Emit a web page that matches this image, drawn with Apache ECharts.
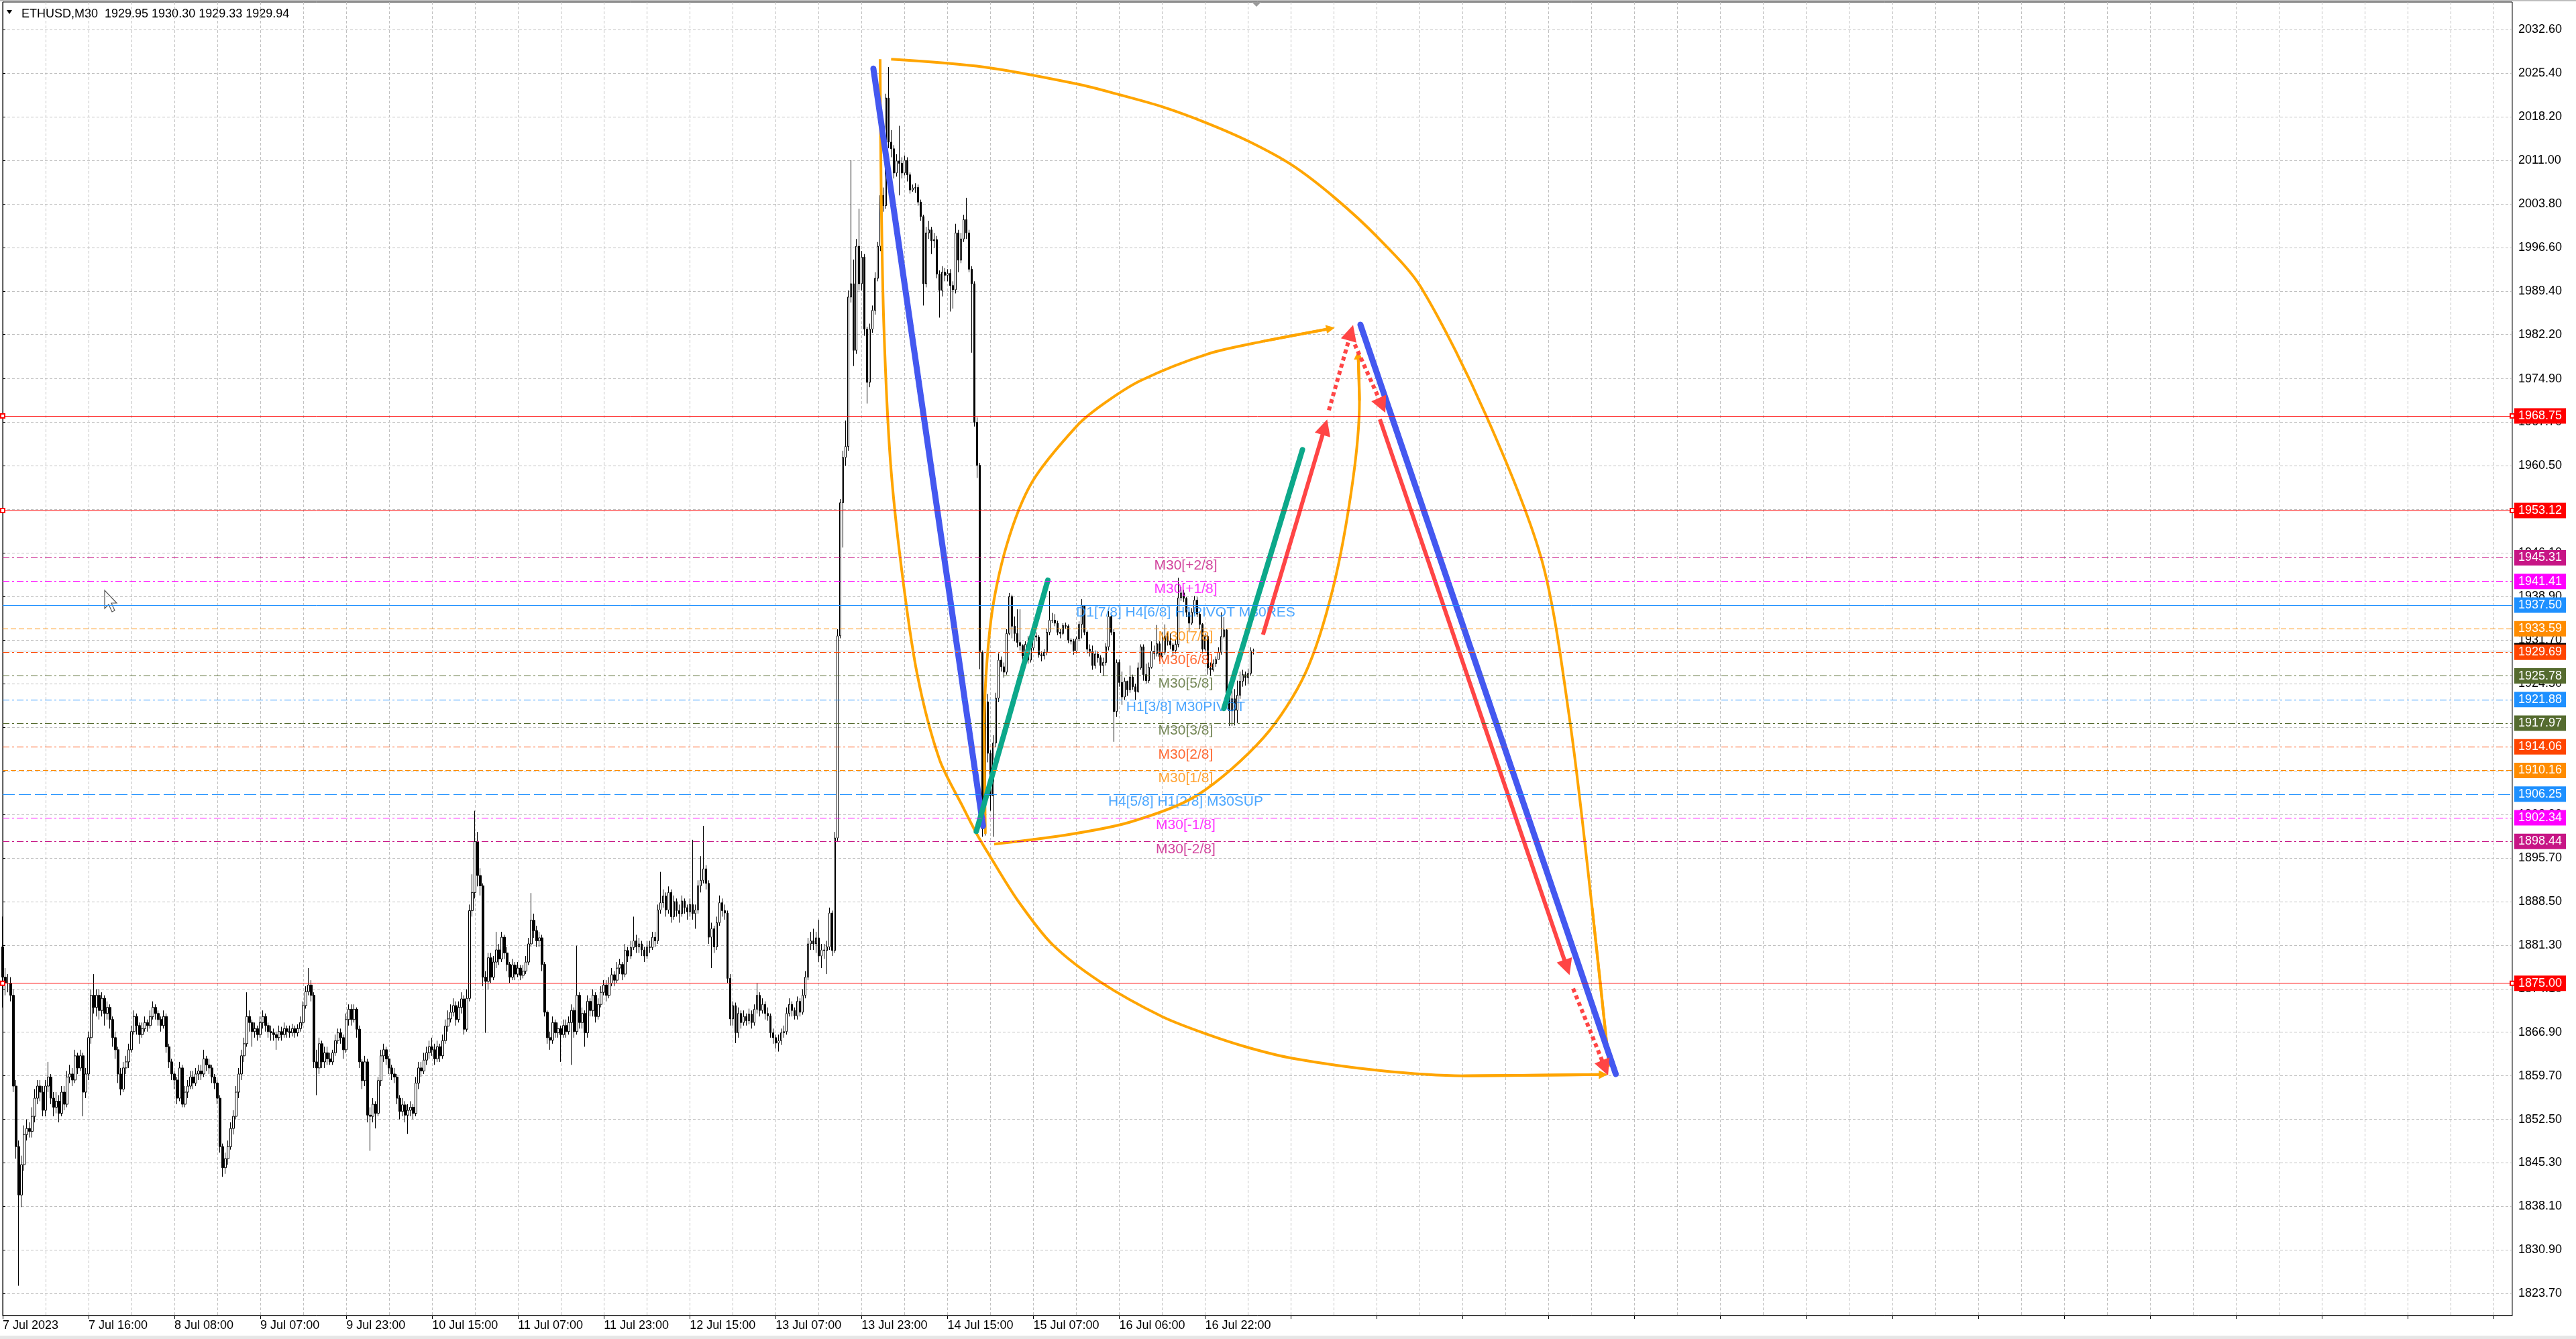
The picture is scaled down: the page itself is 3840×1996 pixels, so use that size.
<!DOCTYPE html>
<html><head><meta charset="utf-8">
<script src="https://cdn.jsdelivr.net/npm/echarts@6/dist/echarts.min.js"></script>
<style>html,body{margin:0;padding:0;background:#fff}#c{width:3840px;height:1996px}</style>
</head><body><div id="c"></div>
<script>
// ---------------- DATA ----------------
const SYMBOL = 'ETHUSD,M30';
const TIME_LABELS = ['7 Jul 2023','7 Jul 16:00','8 Jul 08:00','9 Jul 07:00','9 Jul 23:00','10 Jul 15:00','11 Jul 07:00','11 Jul 23:00','12 Jul 15:00','13 Jul 07:00','13 Jul 23:00','14 Jul 15:00','15 Jul 07:00','16 Jul 06:00','16 Jul 22:00'];
const Y_TICKS = [2032.60,2025.40,2018.20,2011.00,2003.80,1996.60,1989.40,1982.20,1974.90,1967.70,1960.50,1953.30,1946.10,1938.90,1931.70,1924.50,1917.30,1910.10,1902.90,1895.70,1888.50,1881.30,1874.10,1866.90,1859.70,1852.50,1845.30,1838.10,1830.90,1823.70];
const FIRST_OPEN = 1881;
const CLOSE = [
1876,1875,1875,1873,1858,1848,1840,1845,1850,1851,1850.5,1853,1856,1858,1857,1854,
1858,1859.5,1856,1854.5,1855.5,1853.5,1857,1855,1859.5,1860,1859,1863,1861,1863,1857,1860,
1866,1873,1871,1873,1870.5,1872.5,1870,1871,1869,1866,1864,1860,1857.5,1861,1862,1864,
1867,1869.5,1868,1866.5,1867.5,1868.5,1868,1869.5,1871,1870,1869,1868,1869.5,1864.5,1862,1860,
1859,1856,1861,1855,1857,1858,1859.5,1858.5,1860,1860.5,1860,1862.5,1861.5,1861,1859.5,1858.5,
1856,1848,1844.5,1846,1848,1851,1853,1857,1860,1863,1865,1869.5,1868.5,1867,1867.5,1866.5,
1868.5,1869.5,1868,1867,1866.8,1866.5,1866,1867,1866.5,1867.5,1867,1866.8,1867.5,1866.8,1867.5,1868.5,
1871.3,1873.6,1874.7,1873,1862,1861,1865,1862,1863.5,1862.5,1862,1863.5,1865.5,1866.8,1866,1864,
1869,1870.7,1869,1870.7,1867.4,1862,1858.9,1862,1853.2,1853,1855,1853.5,1858.9,1863,1864,1862.5,
1861,1860,1859.5,1856,1853.8,1854.9,1853.2,1854,1854.5,1853.5,1858.5,1861,1860.5,1862.3,1863.5,1864.5,
1864,1862.5,1864.5,1863,1865.5,1867.9,1869.1,1870.2,1871.3,1869,1871,1872.4,1867.4,1872.5,1887,1890,
1898.4,1892.8,1891.1,1876,1875.3,1879.2,1876,1878.5,1880.5,1879,1882.6,1880,1878.1,1876,1878,1876.5,
1877.5,1876.3,1877,1878.5,1881.5,1885.4,1883.7,1882,1882.5,1878.1,1870.2,1866,1865.6,1868.5,1866.8,1867.5,
1866.5,1868,1867,1868.5,1870.5,1867,1873,1868.5,1870,1866.8,1872,1870.5,1873,1869.5,1871.5,1873.5,
1874.7,1873,1875,1876.4,1875.5,1877.5,1878.1,1876.5,1880.4,1879.5,1880.9,1882,1881,1881.5,1880.5,1879.5,
1881,1880.9,1882.6,1882,1887.1,1888.3,1889.4,1887.1,1890,1886,1888.5,1887,1886.5,1888.6,1887.5,1886.8,
1888,1886.5,1887.1,1891.1,1892,1893.9,1891.5,1882.6,1884,1881,1885,1888.3,1887,1886.6,1875.8,1869.1,
1871.3,1866.8,1870,1868.5,1869.5,1868.8,1869.9,1868.5,1870.7,1873,1870.5,1871.5,1870,1869.6,1866.8,1866,
1865.1,1865.5,1866.8,1867,1870,1871.5,1870.5,1869.6,1872,1870.2,1873,1876,1881.5,1882,1881.5,1882.5,
1879.5,1880.5,1880.4,1881,1886.6,1880.4,1899,1932.4,1954.4,1961.9,1963.7,1988.4,1990.6,1979.6,1996.8,1990.6,
1995,1983.1,1974.3,1983.1,1986.2,1991.5,1996.8,2005.2,2003.5,2021.3,2014,2012.9,2008.9,2010.9,2010.5,2008.9,
2011,2008.6,2006.1,2006.4,2006.5,2004.1,2001.7,1990.6,1999,1999.5,1997.7,1997.9,1992.2,1989.5,1992.5,1992,
1992.3,1990.3,1989.6,1999,1994.5,1998,2001.2,1999,1993,1990.6,1967.7,1960.6,1929.7,1900.5,1921.5,1913,
1906,1914.7,1922.1,1928.4,1927.3,1926.4,1932.8,1938.9,1934,1932.8,1931.3,1930.8,1929.1,1931,1928.4,1930.4,
1932.4,1932.2,1929.3,1929.1,1929.7,1933,1935,1935,1934.5,1933,1932.8,1934.1,1934,1931.7,1931.5,1929.9,
1931.9,1934.3,1937.4,1933,1930.2,1929.8,1927.5,1929.4,1928.8,1927.5,1928,1930.6,1935.6,1933,1919.9,1928,
1924.7,1922.3,1924.9,1923.5,1925.6,1924,1923.2,1927.1,1930.6,1926,1925,1927.2,1929.9,1929.5,1931.1,1929,
1929.7,1932.3,1931.5,1930.9,1930,1931,1938.7,1939.5,1938.6,1936.3,1934.5,1936.3,1938.3,1936,1934.3,1930.2,
1932.3,1927.1,1926.8,1927.8,1928.5,1929.7,1932.3,1933.4,1923,1920,1922,1920.1,1922.6,1924.9,1926,1925.5,
1926.2,1929.95,1929.94];
const HIGH = [
1886,1877.5,1876.5,1876,1874,1859,1849,1846.5,1851.5,1852.5,1852,1854.5,1857.5,1859,1859,1858,
1859,1862,1860,1857,1857,1856.5,1858,1858,1860.5,1861.5,1861,1864,1863.5,1864,1863.5,1861,
1867,1874,1876.5,1874,1874,1873.5,1873,1872,1871.5,1869.5,1867,1864.5,1861,1862,1863,1865,
1868,1870.5,1870,1868.5,1868.5,1869.5,1869,1870.5,1872,1871.5,1870.5,1869.5,1870.5,1870,1865,1862.5,
1860.5,1859.5,1862,1861.5,1858,1859,1860.5,1860.5,1861,1861.5,1861.5,1864,1863,1862.5,1861.5,1860,
1859,1856.5,1848.5,1847,1849,1852,1854,1858,1861,1864,1866,1873.5,1870.5,1869,1868.5,1868,
1869.5,1870.5,1870,1868.5,1868,1867.5,1867,1868,1867.8,1868.5,1868,1868,1868.3,1868,1868.2,1869.5,
1872,1874.5,1877.5,1875.5,1873.5,1864,1866,1865.5,1864.5,1864.5,1863.5,1864,1866.5,1867.5,1867.5,1866.5,
1870,1871.5,1871.5,1871.5,1871,1868,1862.5,1863,1862.5,1854.5,1856,1855.5,1859.5,1864,1865,1864.5,
1863,1861.5,1861,1860,1856.5,1856,1855.5,1855,1855.5,1855,1859.5,1862,1862,1863.5,1864.5,1865.5,
1866,1865,1865.5,1865,1866.5,1869,1870.5,1871.5,1872.5,1872,1872,1873.5,1873,1874,1888,1893,
1903.5,1900,1894,1891.5,1877,1880,1880,1879.5,1883.5,1881.5,1883.5,1883,1881,1878.5,1879,1878.5,
1878.5,1878,1878,1879.5,1882.5,1889.9,1886.5,1884.5,1883.5,1883,1878.5,1870.5,1867,1869.5,1869,1868.5,
1868,1869,1869,1869.5,1871.5,1871,1881.2,1873.5,1871,1870.5,1873,1872.5,1874,1873.5,1872.5,1874.5,
1875.5,1875.5,1876,1877.5,1877,1878.5,1879,1878.5,1881.5,1881,1882,1886,1883,1882.5,1882,1881,
1882,1882,1883.5,1883.5,1888,1893.4,1890.5,1890,1891,1890.5,1889.5,1889,1888,1889.5,1889,1888,
1889,1898.7,1888,1892,1896,1901,1894.5,1892,1885,1884.5,1886,1889.5,1889,1888,1887,1876.5,
1872,1871.8,1871,1870.5,1870.5,1870,1870.8,1870.5,1871.5,1875,1873.5,1872.5,1872,1871,1870,1867.5,
1866.5,1866.5,1867.5,1868,1871,1872.5,1872,1871,1872.8,1872.5,1874,1877,1882.5,1883.5,1884,1883.5,
1885.5,1881.5,1881.5,1882,1887.5,1887,1900,1933.5,1955,1963,1968,1989.5,2011,1994.6,1998,2003,
1996,1995.5,1983.5,1984,1987,1992.5,1997.5,2006,2006.5,2022,2026.4,2016,2013.5,2012,2016.7,2011.5,
2011.8,2011.5,2009,2007,2007.2,2007,2004.5,2002,2000,2001,2000,1999,1998.5,1992.8,1993.5,1993.2,
1993,1993,1991,2000.5,1999.5,1999,2002,2004.8,1999.5,1993.5,1991,1968.5,1961,1930,1924.7,1922.8,
1913.5,1916,1923,1929.5,1929,1928,1933.5,1939.5,1939.2,1935.6,1936.8,1936.8,1931,1931.5,1932.4,1931,
1933,1933,1932.5,1929.8,1930.2,1933.6,1939.8,1936.2,1936,1934.9,1933.6,1934.5,1934.6,1934.3,1932,1931.9,
1932.3,1934.8,1938.5,1937.5,1933.3,1931,1930.8,1930,1929.8,1929.2,1928.8,1931.2,1936.5,1935.8,1933.5,1928.5,
1928.5,1926.5,1925.5,1925,1927.5,1926,1924.5,1928,1931,1931,1927.8,1928,1931.5,1930.8,1934.2,1931.5,
1933,1934.3,1933,1932.8,1931.2,1931.8,1942,1940.5,1940,1938.8,1936.5,1937,1939,1938.8,1936.3,1934.5,
1932.8,1932.5,1928,1928.5,1929,1930.5,1936.3,1935.5,1933.5,1923.5,1926,1923.6,1925,1926.5,1926.8,1926.5,
1927,1930.5,1930.30];
const LOW = [
1871,1873,1873.5,1872,1857,1846,1825,1838,1844,1849,1849.5,1849.5,1852,1855,1855.5,1853,
1853,1857,1855,1853,1853.5,1852,1853,1854,1854.5,1858.5,1858,1858.5,1860,1860.5,1853,1856,
1859,1865,1870,1869.5,1869,1869.5,1868,1869,1867.5,1864.5,1862.5,1858.5,1856.5,1857,1860,1861,
1863.5,1866.5,1866.5,1865,1866,1867,1867,1867.5,1869,1869,1868,1867,1867.5,1863.5,1861,1859,
1857.5,1855,1855.5,1854.5,1854.5,1856,1857.5,1857.5,1858,1859,1859,1859.5,1860.5,1860,1858.5,1857.5,
1855,1847,1843,1843.5,1845,1847.5,1850,1852.5,1856,1859,1862,1864.5,1867,1864.5,1866,1865.5,
1866,1867.5,1867,1866,1865.5,1865.5,1864,1865.5,1865.5,1866,1866,1866,1866.2,1866,1866.2,1867,
1868,1870.8,1873,1872,1861,1856.5,1860,1861,1861,1861.5,1861.5,1861.5,1863,1865,1865,1862.5,
1863.5,1868,1868,1868.5,1866,1861,1857.5,1858,1852,1847.3,1852,1851,1853,1858,1862,1861.5,
1860,1859,1858.5,1855,1852.5,1853,1852,1850.1,1853,1852.5,1853,1857.5,1859.5,1860,1861.5,1862.5,
1863,1861.5,1862,1862,1862.5,1865,1867,1868.5,1869.5,1868,1868.5,1870,1866.5,1867,1872,1886,
1889,1891,1889.5,1874.5,1866.8,1874,1875,1875.5,1877.5,1878,1878.5,1879,1877,1875,1875.5,1875.5,
1876,1875.5,1875.8,1876.5,1878,1881,1882.5,1881,1881,1877,1869.5,1865,1864,1865,1866,1866,
1862,1866,1866,1866.5,1861.5,1866,1866.5,1867.5,1867.5,1864.5,1866,1869.5,1869.5,1868.5,1869,1871,
1873,1872,1872.5,1874.5,1874.5,1875,1876.5,1875.5,1876,1878.5,1879,1880.5,1880,1880,1879.5,1878.5,
1879,1880,1880.5,1881,1881.5,1886.5,1887.5,1886,1886.5,1885,1885.5,1886,1885,1886,1886.5,1885.5,
1886,1885.5,1884,1886.5,1890,1891.5,1890.5,1881.5,1877.5,1880,1880.5,1884.5,1886,1885.5,1875,1868,
1868,1865.1,1866,1867.5,1868,1868,1868.2,1867.5,1868,1870,1869.5,1870,1869,1868.8,1866,1865,
1864.2,1863.7,1864.8,1866,1866.5,1869.5,1869.5,1869,1869,1869.5,1869.8,1872.5,1875.5,1880.5,1880.5,1880,
1878.5,1877.5,1879,1876.5,1880.5,1879.5,1880,1898.5,1932,1947,1960.5,1963,1987.5,1977,1979,1989.5,
1989.5,1982,1970.8,1973.5,1982.5,1985.5,1991,1996,2002.5,2003,2013,2011.5,2008,2008.3,2005.2,2008,
2008.5,2007.5,2005.5,2005.8,2005.6,2003.5,2001,1987,1990,1998,1995.5,1996.5,1991.5,1985,1988.5,1991,
1991,1986,1986.5,1989,1992.5,1994,1997.5,1998,1992.5,1979.2,1967,1958.5,1926.9,1899.2,1899.4,1911.5,
1903.5,1899.2,1914,1921.5,1926.5,1925.5,1926,1932.5,1932,1931.5,1930.5,1930,1928,1928.5,1927.8,1928,
1930,1931.5,1928.8,1928.2,1928.5,1929.2,1932.5,1934.5,1934,1932.5,1932,1932.5,1933.5,1931.2,1931,1929.3,
1929.5,1931.5,1932,1932.5,1929.5,1929,1926.8,1927,1928,1926.3,1925.8,1927.5,1930,1932.5,1914.9,1919,
1924,1921,1921.8,1922.5,1923,1923.5,1921.8,1923,1926.8,1925,1924.5,1924.6,1927,1928.5,1929,1928.2,
1928.8,1929.3,1930.8,1930.2,1929,1929.5,1930.5,1938.2,1938,1935.5,1933,1934.2,1936,1935.5,1933.5,1929.5,
1929.8,1926,1925.8,1926.5,1927.3,1928.5,1929.3,1932,1922,1917.5,1917.5,1917.6,1918,1922,1924,1924.2,
1924.5,1925.8,1929.33];

const RED_LEVELS = [1968.75, 1953.12, 1875.00];
const LEVEL_PRICES = [1945.31,1941.41,1937.50,1933.59,1929.69,1925.78,1921.88,1917.97,1914.06,1910.16,1906.25,1902.34,1898.44];
const LEVEL_TEXTS = ['M30[+2/8]','M30[+1/8]','D1[7/8] H4[6/8] H1PIVOT M30RES','M30[7/8]','M30[6/8]','M30[5/8]','H1[3/8] M30PIVOT','M30[3/8]','M30[2/8]','M30[1/8]','H4[5/8] H1[2/8] M30SUP','M30[-1/8]','M30[-2/8]'];

// annotation objects in (bar index, price)
const BLUE_LINES = [[[324.4,2026.15],[365.25,1900.99]], [[505.85,1983.84],[601,1859.98]]];
const GREEN_LINES = [[[362.75,1900.10],[389.4,1941.60]], [[455,1920.41],[484.25,1963.17]]];
const RED_SOLID = [[[469.55,1932.6],[492.6,1966.9]], [[513.1,1968.2],[582.8,1877.6]]];
const RED_DOTTED = [[[494.1,1969.7],[502.3,1982.5]], [[503.75,1980.57],[513.9,1970.5]], [[585.1,1874.11],[597.0,1861.0]]];
const CURVE_A = [[326.9,2027.7],[327.3,2005.7],[328.3,1983.6],[330.7,1961.5],[334.8,1943.8],[340.7,1926.1],[349,1912.0],[357.9,1904.0],[363,1899.6],[368.1,1895.8],[378.3,1888.6],[391.1,1881.4],[409,1875.2],[431.9,1869.5],[448.5,1866.6],[463.8,1864.4],[480.4,1862.6],[512.3,1860.6],[544.2,1859.7],[596.3,1859.9]];
const CURVE_B = [[331,2027.7],[365.7,2026.4],[400.4,2023.6],[416.4,2021.8],[432.4,2019.8],[448.4,2017.2],[464.4,2014.1],[480.4,2010.2],[496.3,2004.8],[512.4,1998.2],[528.3,1990.1],[552.8,1968.7],[573.5,1944.8],[583.9,1918.3],[592.2,1887.4],[598.4,1861.8]];
const CURVE_C = [[366.1,1899.7],[365.7,1917.3],[368.2,1935.0],[374,1947.3],[383.5,1957.8],[400,1967.0],[410,1970.7],[424,1974.6],[449,1979.0],[469.8,1981.1],[494.7,1983.2]];
const CURVE_D = [[369.4,1898.0],[394.8,1899.4],[419.8,1901.6],[444.8,1906.0],[469.8,1915.6],[485.3,1926.2],[495.7,1940.4],[503,1958.0],[505.5,1971.3],[505,1978.8]];

// ---------------- LAYOUT / STYLE ----------------
const SLOTS = 936;
const Y_MIN = 1820.08, Y_MAX = 2037.16;
const LEVEL_LABEL_AT = 440.75;
const UI_FONT = 'Liberation Sans';
const DASHDOT = [10,4,3,4], DASH = [8,4], LONGDASH = [18,6];
const LEVEL_STYLE = [
  {color:'#C71585', dash:DASHDOT},{color:'#FF00FF', dash:DASHDOT},{color:'#1E90FF', dash:'solid'},
  {color:'#FF8C00', dash:DASH},{color:'#FF4500', dash:DASHDOT},{color:'#556B2F', dash:DASHDOT},
  {color:'#1E90FF', dash:DASHDOT},{color:'#556B2F', dash:DASHDOT},{color:'#FF4500', dash:DASHDOT},
  {color:'#FF8C00', dash:DASH},{color:'#1E90FF', dash:LONGDASH},{color:'#FF00FF', dash:DASHDOT},
  {color:'#C71585', dash:DASHDOT}];
const C_BLUE = '#4458F0', C_GREEN = '#0CA88A', C_RED = '#FF4545', C_ORANGE = '#FFA500';
const GRID_LINE = {color:'#c0c0c0', type:[4,3], width:1};

// ---------------- BUILD ----------------
const slotIds = Array.from({length: SLOTS}, (_, i) => String(i));
const candles = CLOSE.map((c, i) => [i === 0 ? FIRST_OPEN : CLOSE[i-1], c, LOW[i], HIGH[i]]);
const last = CLOSE.length - 1;
const titleText = SYMBOL + '  ' + [CLOSE[last-1], HIGH[last], LOW[last], CLOSE[last]].map(v => v.toFixed(2)).join(' ');

function boxLabel(bg) {
  return {show:true, position:'end', distance:3, color:'#fff', backgroundColor:bg,
    padding:[3,6,2,6], fontFamily:UI_FONT, fontSize:18,
    formatter: p => Number(p.value).toFixed(2)};
}
const levelLines = [{yAxis: CLOSE[last], lineStyle:{color:'#c0c0c0', type:'solid', width:1}, label: boxLabel('#000')}]
  .concat(LEVEL_PRICES.map((p, i) => ({yAxis:p, lineStyle:{color:LEVEL_STYLE[i].color, type:LEVEL_STYLE[i].dash, width:1}, label: boxLabel(LEVEL_STYLE[i].color)})));
const redLines = RED_LEVELS.map(p => ({yAxis:p, lineStyle:{color:'#FF0000', type:'solid', width:1}, label: boxLabel('#FF0000')}));

function curveSeries(pts) {
  return {type:'line', xAxisIndex:1, yAxisIndex:0, data:pts, smooth:0.3, symbol:'none', silent:true,
    lineStyle:{color:C_ORANGE, width:4}, z:3};
}
function segSeries(list, color, width, dash, withArrow, arrowSize, cap) {
  return {type:'lines', coordinateSystem:'cartesian2d', xAxisIndex:1, yAxisIndex:0, silent:true, z:4,
    data: list.map(c => ({coords:c})),
    symbol: withArrow ? ['none','triangle'] : ['none','none'], symbolSize: arrowSize || 10,
    lineStyle:{color:color, width:width, type:dash || 'solid', opacity:1, cap: cap || 'butt'}};
}
const orangeHeads = [CURVE_A, CURVE_B, CURVE_C, CURVE_D].map(c => [c[c.length-2], c[c.length-1]]);

const option = {
  animation:false,
  backgroundColor:'#fff',
  textStyle:{fontFamily:UI_FONT},
  grid:{left:4, right:95, top:3, bottom:35, show:true, borderColor:'#000', borderWidth:1, backgroundColor:'transparent'},
  xAxis:[
    {type:'category', data:slotIds, boundaryGap:false,
     axisLine:{show:true, lineStyle:{color:'#000'}},
     axisTick:{show:true, interval:31, length:5, lineStyle:{color:'#000'}},
     axisLabel:{interval:31, align:'left', margin:6, color:'#000', fontFamily:UI_FONT, fontSize:18,
       formatter:(v, i) => TIME_LABELS[i/32] || ''},
     splitLine:{show:true, interval:15, lineStyle:GRID_LINE}},
    {type:'value', min:0, max:SLOTS-1, show:false}
  ],
  yAxis:[{type:'value', position:'right', min:Y_MIN, max:Y_MAX, scale:true,
    axisLine:{show:true, lineStyle:{color:'#000'}},
    axisTick:{show:true, length:4, customValues:Y_TICKS, lineStyle:{color:'#000'}},
    axisLabel:{customValues:Y_TICKS, margin:9, color:'#000', fontFamily:UI_FONT, fontSize:18, formatter:v => v.toFixed(2)},
    splitLine:{show:true, lineStyle:GRID_LINE}}],
  series:[
    {type:'candlestick', xAxisIndex:0, yAxisIndex:0, data:candles, barWidth:3, silent:true,
     itemStyle:{color:'#fff', color0:'#000', borderColor:'#000', borderColor0:'#000', borderWidth:1},
     markLine:{silent:true, symbol:['none','none'], animation:false, data:levelLines}},
    {type:'scatter', xAxisIndex:1, yAxisIndex:0, silent:true, symbolSize:0.1, itemStyle:{color:'transparent'},
     data: LEVEL_PRICES.map((p, i) => ({value:[LEVEL_LABEL_AT, p], label:{color:LEVEL_STYLE[i].color}})),
     label:{show:true, position:'bottom', distance:1, fontFamily:UI_FONT, fontSize:21,
       formatter: p => LEVEL_TEXTS[p.dataIndex]},
     markLine:{silent:true, symbol:['emptyRect','emptyRect'], symbolSize:6, animation:false, data:redLines}},
    curveSeries(CURVE_A), curveSeries(CURVE_B), curveSeries(CURVE_C), curveSeries(CURVE_D),
    segSeries(orangeHeads, C_ORANGE, 4, 'solid', true, [10,13]),
    segSeries(BLUE_LINES, C_BLUE, 9, 'solid', false, 0, 'round'),
    segSeries(GREEN_LINES, C_GREEN, 8, 'solid', false, 0, 'round'),
    segSeries(RED_SOLID, C_RED, 6, 'solid', true, [18,24]),
    segSeries(RED_DOTTED, C_RED, 6, [6,5], true, [18,24])
  ],
  graphic:{elements:[
    {type:'rect', shape:{x:0, y:0, width:3840, height:2}, style:{fill:'#bdbdbd'}, silent:true},
    {type:'rect', shape:{x:0, y:1991, width:3840, height:5}, style:{fill:'#e6e6e6'}, silent:true},
    {type:'polygon', shape:{points:[[10,15],[18,15],[14,21]]}, style:{fill:'#000'}, silent:true},
    {type:'text', left:32, top:12, style:{text:titleText, fill:'#000', font:'18px "Liberation Sans"'}, silent:true},
    {type:'polygon', shape:{points:[[1866,3],[1880,3],[1873,10]]}, style:{fill:'#9a9a9a'}, silent:true},
    {type:'polygon', shape:{points:[[156,880],[156,907],[162,901],[167,912],[171,910],[166,899],[174,899]]},
     style:{fill:'#fff', stroke:'#555', lineWidth:1.2}, silent:true}
  ]}
};
const chart = echarts.init(document.getElementById('c'), null, {renderer:'canvas', width:3840, height:1996});
chart.setOption(option);
</script>
</body></html>
